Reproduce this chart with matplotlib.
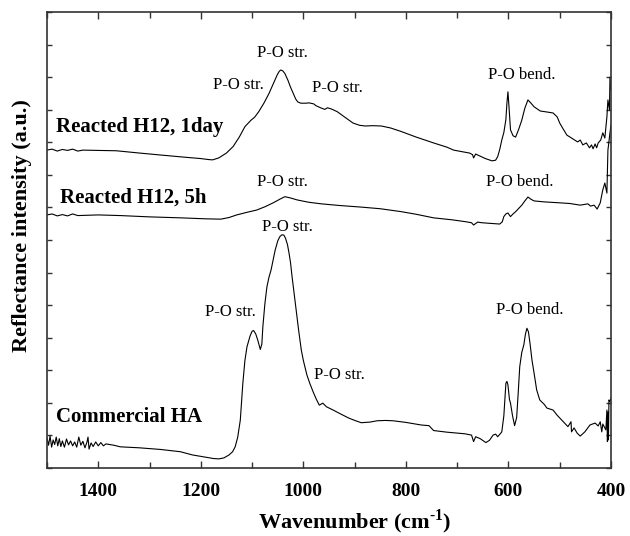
import matplotlib
matplotlib.use("Agg")
import matplotlib.pyplot as plt
from matplotlib.ticker import MultipleLocator, NullFormatter

plt.rcParams["font.family"] = ["Liberation Serif", "DejaVu Serif"]
plt.rcParams["mathtext.fontset"] = "custom"
plt.rcParams["mathtext.rm"] = "Liberation Serif"
plt.rcParams["mathtext.bf"] = "Liberation Serif:bold"

# ── Data (wavenumber in cm-1, intensity in a.u.) ─────────────────────────────
wn_1day = [1500, 1490, 1480, 1470, 1460, 1450, 1440, 1430, 1400, 1365, 1320,
           1279, 1230, 1200, 1185, 1177, 1165, 1150, 1137, 1125, 1114, 1102,
           1095, 1087, 1077, 1067, 1058, 1051, 1047, 1044, 1040, 1036, 1030,
           1025, 1020, 1015, 1011, 1005, 995, 989, 980, 975, 965, 958, 953,
           945, 934, 920, 903, 890, 879, 865, 848, 830, 809, 780, 746, 720,
           707, 690, 676, 670, 668, 664, 660, 645, 632, 625, 621, 617, 613,
           609, 605, 603, 601, 599, 596, 591, 586, 580, 574, 568, 562, 556,
           550, 538, 525, 513, 505, 500, 493, 486, 474, 465, 460, 455, 448,
           442, 438, 435, 431, 428, 425, 420, 416, 412, 408, 406, 403, 402, 400]
y_1day = [9.76, 9.79, 9.73, 9.78, 9.75, 9.79, 9.73, 9.76, 9.75, 9.74, 9.67,
          9.61, 9.54, 9.50, 9.47, 9.46, 9.52, 9.67, 9.87, 10.16, 10.48, 10.68,
          10.77, 10.94, 11.20, 11.50, 11.82, 12.07, 12.18, 12.22, 12.19, 12.11,
          11.90, 11.69, 11.51, 11.33, 11.24, 11.20, 11.20, 11.21, 11.18, 11.12,
          11.05, 11.01, 11.06, 11.02, 10.94, 10.78, 10.59, 10.52, 10.50, 10.51,
          10.50, 10.44, 10.33, 10.16, 9.98, 9.85, 9.76, 9.71, 9.67, 9.62, 9.52,
          9.64, 9.61, 9.50, 9.43, 9.45, 9.56, 9.78, 10.07, 10.30, 10.70, 11.20,
          11.55, 11.10, 10.38, 10.20, 10.16, 10.40, 10.68, 11.05, 11.30, 11.20,
          11.09, 10.96, 10.93, 10.90, 10.78, 10.59, 10.40, 10.22, 10.10, 10.01,
          10.07, 9.92, 9.98, 9.83, 9.92, 9.80, 9.95, 9.83, 9.98, 10.07, 10.29,
          10.13, 10.78, 11.30, 10.99, 12.00, 11.61]

wn_5h = [1500, 1490, 1480, 1470, 1460, 1450, 1440, 1400, 1357, 1300, 1239,
         1190, 1161, 1145, 1130, 1110, 1091, 1075, 1059, 1045, 1036, 1025,
         1012, 990, 965, 930, 887, 850, 809, 780, 746, 710, 683, 672, 668,
         660, 652, 635, 617, 612, 609, 605, 601, 598, 596, 591, 586, 580, 574,
         568, 562, 556, 550, 530, 499, 480, 460, 445, 440, 433, 427, 421, 416,
         412, 408, 406, 402, 400]
y_5h = [7.77, 7.80, 7.74, 7.78, 7.74, 7.80, 7.75, 7.77, 7.75, 7.71, 7.68,
        7.65, 7.64, 7.69, 7.77, 7.85, 7.92, 8.02, 8.14, 8.26, 8.33, 8.29, 8.23,
        8.16, 8.11, 8.06, 8.01, 7.96, 7.87, 7.79, 7.68, 7.62, 7.56, 7.53, 7.46,
        7.55, 7.53, 7.51, 7.49, 7.56, 7.72, 7.80, 7.83, 7.76, 7.72, 7.80, 7.87,
        7.97, 8.07, 8.20, 8.32, 8.25, 8.20, 8.17, 8.14, 8.12, 8.07, 8.11, 8.04,
        8.07, 7.95, 8.14, 8.54, 8.75, 8.44, 9.76, 10.29, 10.53]

wn_ha = [1500, 1497, 1494, 1491, 1488, 1485, 1482, 1479, 1476, 1473, 1470,
         1466, 1462, 1458, 1454, 1450, 1446, 1442, 1438, 1434, 1430, 1426,
         1422, 1420, 1418, 1414, 1410, 1405, 1400, 1395, 1390, 1385, 1370,
         1357, 1320, 1279, 1240, 1216, 1190, 1175, 1165, 1155, 1145, 1138,
         1133, 1128, 1123, 1118, 1114, 1110, 1104, 1100, 1097, 1093, 1089,
         1084, 1081, 1079, 1075, 1071, 1067, 1063, 1059, 1055, 1050, 1046,
         1042, 1038, 1035, 1031, 1028, 1025, 1022, 1018, 1014, 1009, 1004,
         1000, 993, 987, 981, 975, 969, 962, 955, 942, 925, 911, 898, 887,
         870, 856, 840, 825, 800, 770, 755, 746, 720, 699, 685, 672, 668, 664,
         655, 644, 637, 630, 625, 621, 616, 613, 609, 605, 603, 601, 598, 596,
         592, 588, 584, 581, 578, 574, 570, 567, 564, 561, 558, 554, 550, 545,
         539, 530, 525, 513, 505, 496, 484, 478, 477, 472, 466, 460, 451, 441,
         436, 431, 425, 421, 418, 416, 410, 408, 407, 406, 405, 404, 402, 400]
y_ha = [0.92, 0.70, 0.98, 0.64, 0.86, 0.72, 0.95, 0.68, 0.90, 0.66, 0.83,
        0.64, 0.89, 0.71, 0.83, 0.68, 0.80, 0.64, 0.95, 0.70, 0.82, 0.62, 0.80,
        0.95, 0.58, 0.77, 0.66, 0.80, 0.68, 0.78, 0.68, 0.74, 0.70, 0.65, 0.62,
        0.57, 0.50, 0.40, 0.33, 0.29, 0.28, 0.31, 0.40, 0.50, 0.65, 0.95, 1.47,
        2.61, 3.30, 3.72, 4.05, 4.20, 4.22, 4.12, 3.93, 3.64, 3.80, 4.34, 5.05,
        5.57, 5.86, 6.08, 6.38, 6.69, 6.97, 7.10, 7.16, 7.15, 7.06, 6.86, 6.60,
        6.30, 5.87, 5.35, 4.85, 4.20, 3.62, 3.30, 2.85, 2.58, 2.34, 2.12, 1.93,
        1.99, 1.88, 1.78, 1.64, 1.53, 1.45, 1.39, 1.41, 1.45, 1.46, 1.45, 1.40,
        1.32, 1.30, 1.15, 1.10, 1.07, 1.05, 1.01, 0.81, 0.96, 0.90, 0.78, 0.85,
        1.01, 1.04, 0.96, 1.05, 1.11, 1.60, 2.60, 2.66, 2.55, 2.10, 1.99, 1.60,
        1.30, 1.55, 2.30, 3.11, 3.55, 3.78, 4.10, 4.29, 4.18, 3.83, 3.30, 2.91,
        2.40, 2.09, 1.95, 1.84, 1.78, 1.62, 1.47, 1.27, 1.42, 1.11, 1.23, 1.07,
        0.98, 1.11, 1.32, 1.35, 1.38, 1.29, 1.42, 1.11, 1.35, 1.17, 1.78, 0.81,
        1.72, 0.86, 2.09, 2.04, 2.15]

series_names = ["Reacted H12, 1day", "Reacted H12, 5h", "Commercial HA"]

# annotation text, wavenumber, intensity
peak_labels = [
    ("P-O str.", 1040, 12.74), ("P-O str.", 1126, 11.76),
    ("P-O str.", 934, 11.67), ("P-O bend.", 574, 12.07),
    ("P-O str.", 1040, 8.78), ("P-O bend.", 577, 8.78),
    ("P-O str.", 1032, 7.40), ("P-O str.", 1143, 4.79),
    ("P-O str.", 930, 2.86), ("P-O bend.", 558, 4.85),
]
name_pos = [(1482, 10.47), (1475, 8.29), (1482, 1.57)]

# ── Plot ─────────────────────────────────────────────────────────────────────
fig = plt.figure(figsize=(6.3, 5.36), dpi=100)
ax = fig.add_axes([47 / 630, 1 - 468 / 536, 564 / 630, 456 / 536])

for wn, y in [(wn_1day, y_1day), (wn_5h, y_5h), (wn_ha, y_ha)]:
    ax.plot(wn, y, color="black", lw=0.8)

for name, (x, y) in zip(series_names, name_pos):
    ax.text(x, y, name, fontsize=15, fontweight="bold", ha="left", va="center")
for txt, x, y in peak_labels:
    ax.text(x, y, txt, fontsize=12, ha="center", va="center")

ax.set_xlim(1500, 400)
ax.set_ylim(0, 14)
ax.xaxis.set_major_locator(MultipleLocator(200))
ax.xaxis.set_minor_locator(MultipleLocator(100))
ax.yaxis.set_major_locator(MultipleLocator(1))
ax.yaxis.set_major_formatter(NullFormatter())
ax.tick_params(axis="both", which="both", direction="in", top=True, right=True,
               width=1, colors="#333333")
ax.tick_params(axis="x", which="major", length=5, pad=11, labelsize=14,
               labelcolor="black")
ax.tick_params(axis="x", which="minor", length=4)
ax.tick_params(axis="y", length=3.5)
for lab in ax.get_xticklabels():
    lab.set_fontweight("bold")
for sp in ax.spines.values():
    sp.set_linewidth(1.2)
    sp.set_edgecolor("#333333")

ax.set_xlabel("Wavenumber (cm$^{\\mathbf{\u2010}\\mathbf{1}}$)", fontsize=16,
              fontweight="bold", va="center")
ax.xaxis.set_label_coords(0.546, -0.118)
ax.set_ylabel("Reflectance intensity (a.u.)", fontsize=16,
              fontweight="bold", va="center")
ax.yaxis.set_label_coords(-0.044, 0.531)

fig.savefig("out.png", dpi=100)
